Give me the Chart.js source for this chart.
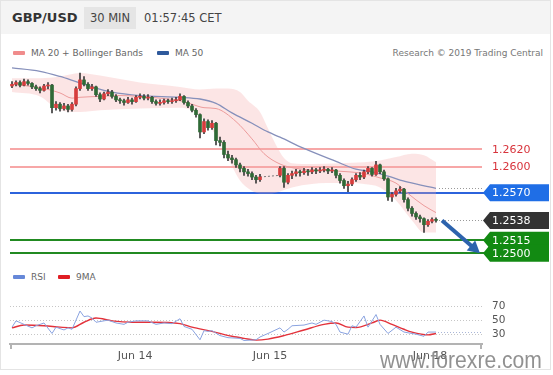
<!DOCTYPE html>
<html>
<head>
<meta charset="utf-8">
<title>GBP/USD 30 MIN</title>
<script src="https://cdn.jsdelivr.net/npm/chart.js@4.4.1/dist/chart.umd.min.js"></script>
<style>
  html, body { margin: 0; padding: 0; background: #fff; }
  body { font-family: "DejaVu Sans", Verdana, sans-serif; color: #444; }
  #box { position: relative; width: 553px; height: 375px; overflow: hidden; }
  #frame { position: absolute; left: 0; top: 0; width: 549px; height: 368px; border: 1px solid #e4e4e4; }
  #head { position: absolute; left: 1px; top: 1px; width: 549px; height: 33px; background: #f4f4f4; }
  #sym { position: absolute; left: 11px; top: 0; line-height: 34px; font-size: 13px; font-weight: bold; color: #333; }
  #tf { position: absolute; left: 83px; top: 6px; width: 52px; height: 22px; line-height: 22px; background: #e5e5e5; text-align: center; font-size: 11.5px; color: #444; }
  #clock { position: absolute; left: 143px; top: 0; line-height: 34px; font-size: 11.5px; color: #444; }
  .leg { position: absolute; font-size: 9px; line-height: 12px; color: #666; white-space: nowrap; }
  .sw { display: inline-block; width: 12px; height: 4px; border-radius: 1px; vertical-align: middle; margin-right: 6px; position: relative; top: -1px; }
  canvas { position: absolute; left: 0; }
  #wm { position: absolute; left: 380px; top: 347px; line-height: 26px; font-family: "Liberation Sans", Arial, sans-serif; font-size: 24px; color: rgba(118,118,118,0.8); white-space: nowrap; transform: scaleX(0.88); transform-origin: left top; }
</style>
</head>
<body>
<div id="box">
  <div id="frame"></div>
  <div id="head">
    <span id="sym">GBP/USD</span>
    <span id="tf">30 MIN</span>
    <span id="clock">01:57:45 CET</span>
  </div>
  <div class="leg" style="left:13px; top:47px;"><span class="sw" style="background:#f08c8c"></span>MA 20 + Bollinger Bands</div>
  <div class="leg" style="left:157px; top:47px;"><span class="sw" style="background:#2f5a9c"></span>MA 50</div>
  <div class="leg" style="right:10px; top:47px; color:#777;">Research © 2019 Trading Central</div>
  <div class="leg" style="left:13px; top:271px;"><span class="sw" style="background:#6688d8"></span>RSI</div>
  <div class="leg" style="left:58px; top:271px;"><span class="sw" style="background:#e01e24"></span>9MA</div>
  <canvas id="price" width="553" height="202" style="top:60px"></canvas>
  <canvas id="rsi" width="553" height="92" style="top:280px"></canvas>
  <div id="wm">www.forexre.com</div>
</div>

<script>
// 30 min candles, index 0 = first bar on the left (null = no bars)
const open = [1.2693,1.2695,1.2697,1.2694,1.2698,1.2696,1.2692,1.2690,1.2688,1.2693,
  1.2694,1.2668,1.2672,1.2667,1.2670,1.2666,1.2672,1.2690,1.2700,1.2695,
  1.2690,1.2692,1.2683,1.2678,1.2684,1.2686,1.2681,1.2677,1.2676,1.2674,
  1.2677,1.2675,1.2680,1.2681,1.2679,1.2680,1.2675,1.2673,1.2674,1.2676,
  1.2675,1.2676,1.2677,1.2681,1.2674,1.2670,1.2665,1.2660,1.2640,1.2652,
  1.2645,1.2650,1.2630,1.2628,1.2614,1.2610,1.2608,1.2602,1.2598,1.2594,
  1.2592,1.2588,1.2585,null,null,null,null,1.2590,1.2598,1.2582,
  1.2590,1.2592,1.2594,1.2593,1.2595,1.2594,1.2596,1.2595,1.2596,1.2597,
  1.2595,1.2596,1.2590,1.2584,1.2578,1.2580,1.2585,1.2590,1.2588,1.2594,
  1.2598,1.2591,1.2602,1.2594,1.2586,1.2565,1.2568,1.2572,1.2574,1.2562,
  1.2552,1.2546,1.2542,1.2540,1.2533,1.2537,1.2539];
const high = [1.2698,1.2699,1.2699,1.2701,1.2700,1.2697,1.2694,1.2692,1.2695,1.2697,
  1.2695,1.2675,1.2674,1.2673,1.2672,1.2674,1.2692,1.2708,1.2704,1.2697,
  1.2695,1.2693,1.2685,1.2686,1.2689,1.2688,1.2683,1.2679,1.2678,1.2680,
  1.2679,1.2682,1.2684,1.2683,1.2683,1.2681,1.2677,1.2677,1.2678,1.2678,
  1.2679,1.2680,1.2684,1.2682,1.2676,1.2672,1.2667,1.2661,1.2655,1.2654,
  1.2653,1.2651,1.2634,1.2630,1.2618,1.2613,1.2610,1.2604,1.2600,1.2597,
  1.2594,1.2590,1.2591,null,null,null,null,1.2600,1.2600,1.2592,
  1.2595,1.2597,1.2596,1.2598,1.2597,1.2599,1.2598,1.2599,1.2600,1.2598,
  1.2599,1.2597,1.2592,1.2586,1.2583,1.2587,1.2592,1.2593,1.2596,1.2600,
  1.2599,1.2606,1.2603,1.2596,1.2587,1.2570,1.2575,1.2577,1.2575,1.2564,
  1.2554,1.2548,1.2544,1.2541,1.2539,1.2541,1.2541];
const low = [1.2691,1.2693,1.2692,1.2693,1.2694,1.2690,1.2688,1.2685,1.2687,1.2690,
  1.2662,1.2665,1.2664,1.2665,1.2663,1.2664,1.2670,1.2688,1.2693,1.2688,
  1.2688,1.2681,1.2675,1.2677,1.2682,1.2679,1.2675,1.2673,1.2671,1.2673,
  1.2672,1.2674,1.2678,1.2677,1.2677,1.2673,1.2671,1.2671,1.2672,1.2673,
  1.2673,1.2674,1.2676,1.2672,1.2668,1.2663,1.2657,1.2633,1.2638,1.2642,
  1.2643,1.2625,1.2624,1.2610,1.2607,1.2604,1.2599,1.2594,1.2590,1.2589,
  1.2585,1.2581,1.2583,null,null,null,null,1.2588,1.2576,1.2580,
  1.2586,1.2589,1.2589,1.2591,1.2590,1.2592,1.2592,1.2593,1.2594,1.2592,
  1.2593,1.2587,1.2581,1.2575,1.2571,1.2578,1.2583,1.2585,1.2586,1.2592,
  1.2589,1.2590,1.2592,1.2584,1.2561,1.2560,1.2566,1.2570,1.2559,1.2549,
  1.2543,1.2539,1.2536,1.2524,1.2531,1.2535,1.2536];
const close = [1.2695,1.2697,1.2694,1.2698,1.2696,1.2692,1.2690,1.2688,1.2693,1.2694,
  1.2668,1.2672,1.2667,1.2670,1.2666,1.2672,1.2690,1.2700,1.2695,1.2690,
  1.2692,1.2683,1.2678,1.2684,1.2686,1.2681,1.2677,1.2676,1.2674,1.2677,
  1.2675,1.2680,1.2681,1.2679,1.2680,1.2675,1.2673,1.2674,1.2676,1.2675,
  1.2676,1.2677,1.2681,1.2674,1.2670,1.2665,1.2660,1.2640,1.2652,1.2645,
  1.2650,1.2630,1.2628,1.2614,1.2610,1.2608,1.2602,1.2598,1.2594,1.2592,
  1.2588,1.2585,1.2588,null,null,null,null,1.2598,1.2582,1.2590,
  1.2592,1.2594,1.2593,1.2595,1.2594,1.2596,1.2595,1.2596,1.2597,1.2595,
  1.2596,1.2590,1.2584,1.2578,1.2580,1.2585,1.2590,1.2588,1.2594,1.2598,
  1.2591,1.2602,1.2594,1.2586,1.2565,1.2568,1.2572,1.2574,1.2562,1.2552,
  1.2546,1.2542,1.2540,1.2533,1.2537,1.2539,1.2538];

// indicator readings (bar index, value)
const ma20Idx = [0,7,12,15,17,22,27,32,37,42,45,48,51,56,60,63,67,71,81,88,92,96,99,103,106];
const ma20 = [1.2695,1.2691,1.2685,1.2679,1.2680,1.2681,1.2682,1.2681,1.2679,1.2676,1.2672,1.2668,1.2667,
  1.2652,1.2632,1.2615,1.2603,1.2598,1.2595,1.2592,1.2587,1.2581,1.2569,1.2555,1.2547];
const bandIdx = [0,7,12,17,22,32,42,47,51,54,57,59,62,64,66,68,70,75,82,88,92,96,100,103,106];
const bbUpper = [1.2702,1.2702,1.2704,1.2708,1.2705,1.2697,1.2692,1.2689,1.2690,1.2690,1.2686,1.2676,1.2663,
  1.2644,1.2625,1.2610,1.2604,1.2603,1.2604,1.2605,1.2607,1.2611,1.2615,1.2613,1.2605];
const bbLower = [1.2686,1.2681,1.2665,1.2663,1.2665,1.2667,1.2668,1.2659,1.2636,1.2610,1.2584,1.2575,1.2569,
  1.2569,1.2570,1.2573,1.2576,1.2580,1.2581,1.2580,1.2576,1.2561,1.2538,1.2524,1.2524];
const ma50Idx = [0,7,12,16,20,25,32,42,47,51,55,60,64,67,73,81,86,90,94,99,106];
const ma50 = [1.2714,1.2710,1.2704,1.2698,1.2692,1.2686,1.2682,1.2680,1.2678,1.2673,1.2662,
  1.2650,1.2640,1.2634,1.2621,1.2606,1.2597,1.2594,1.2589,1.2582,1.2575];

const rsiIdx = [0,1,3,5,6,8,10,11,13,14,15,17,18,19,20,21,23,24,26,28,29,31,34,36,38,40,42,43,45,47,
  48,49,50,52,54,57,58,61,62,64,67,68,69,70,73,75,76,78,80,81,82,84,85,86,88,89,91,92,94,96,
  98,100,101,103,104,106];
const rsi = [40,49,44,39,42,46,31,40,36,39,37,63,55,56,53,47,49,50,46,44,47,49,49,44,46,45,52,41,37,22,
  35,34,35,28,25,24,21,22,26,31,39,33,37,42,43,46,44,50,48,44,33,30,42,40,56,40,58,44,31,40,
  33,31,30,27,33,33];
const rsiMaIdx = [0,3,8,12,15,18,21,25,30,35,42,45,50,55,58,61,64,68,73,78,81,84,86,90,92,95,98,100,104,106];
const rsiMa = [39,43,42,40,39,47,53,49,47,47,45,40,34,27,24,21.5,23,28,36,44,46,40,39.5,46,50,44,37,33,29,31];

// analyst levels
const resistLevels = [1.2620, 1.2600];
const pivotLevel = 1.2570;
const supportLevels = [1.2515, 1.2500];

const dayTickIdx = [30.8, 64.5, 104.5];
const dayLabels = ['Jun 14', 'Jun 15', 'Jun 18'];
const rsiTicks = [30, 50, 70];

// x room: bars sit at 0..106, the rest is space for the forecast arrow
const xMin = -0.5, xMax = 117.5;

Chart.defaults.font.family = '"DejaVu Sans", Verdana, sans-serif';

const pts = (xs, ys) => xs.map((x, k) => ({ x: x, y: ys[k] }));

const wicks = [], bodies = [];
close.forEach((c, i) => {
  if (c == null) return;
  wicks.push({ x: i, y: [low[i], high[i]] });
  bodies.push({ x: i, y: [open[i], c] });
});
const last = close.length - 1;
const gapStart = close.findIndex(c => c == null) - 1;
const gapEnd = close.findIndex((c, i) => i > gapStart + 1 && c != null);

const upColor = '#d63c3c', downColor = '#2f6a36';

function tagBox(ctx, x0, py, bg) {
  const h = 17, w = 66, tip = 7;
  ctx.fillStyle = bg;
  ctx.beginPath();
  ctx.moveTo(x0, py);
  ctx.lineTo(x0 + tip, py - h / 2);
  ctx.lineTo(x0 + w, py - h / 2);
  ctx.lineTo(x0 + w, py + h / 2);
  ctx.lineTo(x0 + tip, py + h / 2);
  ctx.closePath();
  ctx.fill();
}

const levelPlugin = {
  id: 'levels',
  beforeDatasetsDraw(chart) {
    const { ctx, chartArea: a, scales: { y } } = chart;
    const hline = (v, color, w, x2) => {
      const py = Math.round(y.getPixelForValue(v)) + (w === 1 ? 0.5 : 0);
      ctx.strokeStyle = color;
      ctx.lineWidth = w;
      ctx.beginPath();
      ctx.moveTo(a.left, py);
      ctx.lineTo(x2, py);
      ctx.stroke();
    };
    ctx.save();
    ctx.setLineDash([]);
    resistLevels.forEach(v => hline(v, '#f48a8a', 1.6, a.right));
    hline(pivotLevel, '#2c63dc', 2, a.right + 2);
    supportLevels.forEach(v => hline(v, '#218a21', 2, a.right + 2));
    ctx.restore();
  },
  afterDatasetsDraw(chart) {
    const { ctx, chartArea: a, scales: { x, y } } = chart;
    ctx.save();
    // dotted extensions to the tags
    ctx.setLineDash([1, 2]);
    ctx.strokeStyle = '#999';
    ctx.lineWidth = 1;
    [[last, close[last]], [ma50Idx[ma50Idx.length - 1], ma50[ma50.length - 1]]].forEach(([i, v]) => {
      const py = Math.round(y.getPixelForValue(v)) + 0.5;
      ctx.beginPath();
      ctx.moveTo(x.getPixelForValue(i) + 3, py);
      ctx.lineTo(a.right + 2, py);
      ctx.stroke();
    });
    ctx.setLineDash([]);
    // forecast arrow
    const x0 = x.getPixelForValue(last + 1.5), y0 = y.getPixelForValue(close[last]);
    const x1 = x.getPixelForValue(xMax - 0.5), y1 = y.getPixelForValue(supportLevels[1]);
    const ang = Math.atan2(y1 - y0, x1 - x0), head = 12;
    ctx.strokeStyle = '#2d63ad';
    ctx.fillStyle = '#2d63ad';
    ctx.lineWidth = 4;
    ctx.beginPath();
    ctx.moveTo(x0, y0);
    ctx.lineTo(x1 - Math.cos(ang) * head * 0.8, y1 - Math.sin(ang) * head * 0.8);
    ctx.stroke();
    ctx.beginPath();
    ctx.moveTo(x1, y1);
    ctx.lineTo(x1 - Math.cos(ang) * head + Math.sin(ang) * 6.5, y1 - Math.sin(ang) * head - Math.cos(ang) * 6.5);
    ctx.lineTo(x1 - Math.cos(ang) * head - Math.sin(ang) * 6.5, y1 - Math.sin(ang) * head + Math.cos(ang) * 6.5);
    ctx.closePath();
    ctx.fill();
    ctx.restore();
  },
  afterDraw(chart) {
    const { ctx, chartArea: a, scales: { y } } = chart;
    const x0 = a.right + 1;
    ctx.save();
    ctx.font = '11px "DejaVu Sans", Verdana, sans-serif';
    ctx.textBaseline = 'middle';
    ctx.textAlign = 'left';
    resistLevels.forEach(v => {
      ctx.fillStyle = '#d8343c';
      ctx.fillText(v.toFixed(4), x0 + 9, y.getPixelForValue(v) + 0.5);
    });
    const tags = [[pivotLevel, '#1f6ee6'], [close[last], '#333333']]
      .concat(supportLevels.map(v => [v, '#128a12']));
    tags.forEach(([v, bg]) => tagBox(ctx, x0, y.getPixelForValue(v), bg));
    ctx.fillStyle = '#fff';
    tags.forEach(([v]) => ctx.fillText(v.toFixed(4), x0 + 9, y.getPixelForValue(v) + 0.5));
    ctx.restore();
  }
};

new Chart(document.getElementById('price'), {
  type: 'bar',
  data: {
    datasets: [
      { type: 'line', data: pts(bandIdx, bbUpper), borderColor: 'transparent', borderWidth: 0, pointRadius: 0,
        cubicInterpolationMode: 'monotone', fill: '+1', backgroundColor: 'rgba(245,170,170,0.3)', order: 9 },
      { type: 'line', data: pts(bandIdx, bbLower), borderColor: 'transparent', borderWidth: 0, pointRadius: 0,
        cubicInterpolationMode: 'monotone', fill: false, order: 9 },
      { type: 'line', data: pts(ma20Idx, ma20), borderColor: '#ec9b9b', borderWidth: 1, pointRadius: 0,
        cubicInterpolationMode: 'monotone', order: 5 },
      { type: 'line', data: pts(ma50Idx, ma50), borderColor: '#8690bb', borderWidth: 1.3, pointRadius: 0,
        cubicInterpolationMode: 'monotone', order: 5 },
      { type: 'line', data: [{ x: gapStart, y: close[gapStart] }, { x: gapEnd, y: open[gapEnd] }],
        borderColor: '#777', borderWidth: 1, borderDash: [2, 2], pointRadius: 0, order: 4 },
      { data: wicks, backgroundColor: '#3b3b3b', barThickness: 1, grouped: false, minBarLength: 1, order: 2 },
      { data: bodies, barThickness: 3, grouped: false, minBarLength: 1, order: 1,
        backgroundColor: c => (c.raw && c.raw.y[1] > c.raw.y[0]) ? upColor : downColor }
    ]
  },
  options: {
    responsive: false,
    animation: false,
    layout: { padding: { left: 10, right: 71, top: 0, bottom: 0 } },
    plugins: { legend: { display: false }, tooltip: { enabled: false } },
    scales: {
      x: { type: 'linear', min: xMin, max: xMax, offset: false, display: false, grid: { offset: false } },
      y: { min: 1.2490, max: 1.2723, display: false }
    }
  },
  plugins: [levelPlugin]
});

const rsiPlugin = {
  id: 'rsiExtras',
  afterDraw(chart) {
    const { ctx, chartArea: a, scales: { x, y } } = chart;
    ctx.save();
    ctx.strokeStyle = '#b3b3b3';
    ctx.lineWidth = 2;
    [a.left + 1, a.right - 1].forEach(px => {
      ctx.beginPath();
      ctx.moveTo(px, a.bottom);
      ctx.lineTo(px, a.bottom + 5);
      ctx.stroke();
    });
    const py = Math.round(y.getPixelForValue(rsi[rsi.length - 1])) + 0.5;
    ctx.setLineDash([1, 2]);
    ctx.strokeStyle = '#a9b6d8';
    ctx.lineWidth = 1;
    ctx.beginPath();
    ctx.moveTo(x.getPixelForValue(rsiIdx[rsiIdx.length - 1]) + 2, py);
    ctx.lineTo(a.right, py);
    ctx.stroke();
    ctx.restore();
  }
};

new Chart(document.getElementById('rsi'), {
  type: 'line',
  data: {
    datasets: [
      { data: pts(rsiIdx, rsi), borderColor: '#8aa3e0', borderWidth: 1, pointRadius: 0, tension: 0 },
      { data: pts(rsiMaIdx, rsiMa), borderColor: '#e3323b', borderWidth: 1.4, pointRadius: 0,
        cubicInterpolationMode: 'monotone' }
    ]
  },
  options: {
    responsive: false,
    animation: false,
    layout: { padding: { left: 10, top: 5, right: 0, bottom: 0 } },
    plugins: { legend: { display: false }, tooltip: { enabled: false } },
    scales: {
      x: {
        type: 'linear', min: xMin, max: xMax,
        afterBuildTicks: s => { s.ticks = dayTickIdx.map(v => ({ value: v })); },
        afterFit: s => { s.height = 28; },
        grid: { display: false, drawTicks: false },
        border: { display: true, color: '#b3b3b3', width: 2 },
        ticks: { autoSkip: false, maxRotation: 0, padding: 6, color: '#555', font: { size: 11 },
                 callback: (v, i) => dayLabels[i] }
      },
      y: {
        position: 'right', min: 16, max: 84,
        afterBuildTicks: s => { s.ticks = rsiTicks.map(v => ({ value: v })); },
        afterFit: s => { s.width = 71; },
        grid: { color: '#c6c6c6', drawTicks: false },
        border: { display: false, dash: [1, 2] },
        ticks: { padding: 10, color: '#555', font: { size: 10.5 } }
      }
    }
  },
  plugins: [rsiPlugin]
});
</script>
</body>
</html>
